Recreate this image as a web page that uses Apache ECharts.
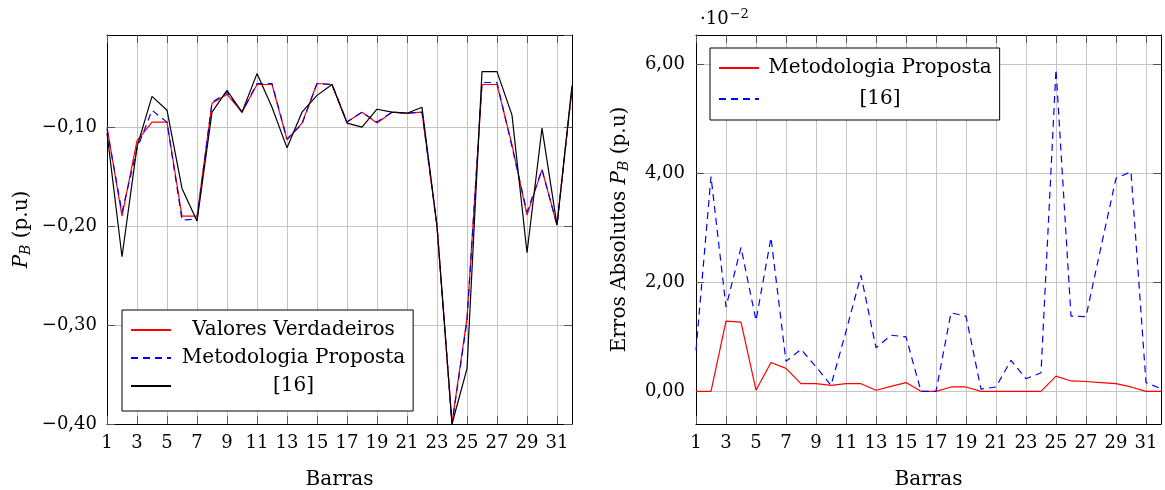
<!DOCTYPE html>
<html>
<head>
<meta charset="utf-8">
<script src="https://cdn.jsdelivr.net/npm/echarts@6/dist/echarts.min.js"></script>
<style>
  html, body { margin: 0; background: #fff; }
  #chart { width: 1165px; height: 490px; }
</style>
</head>
<body>
<div id="chart"></div>
<script>
// barras do sistema
const barras = ['1', '2', '3', '4', '5', '6', '7', '8', '9', '10', '11', '12', '13', '14', '15', '16',
  '17', '18', '19', '20', '21', '22', '23', '24', '25', '26', '27', '28', '29', '30', '31', '32'];

// P_B (p.u) - grafico da esquerda
const valoresVerdadeiros = [-0.100, -0.190, -0.114, -0.095, -0.095, -0.190, -0.190, -0.076, -0.067, -0.085,
  -0.057, -0.057, -0.113, -0.096, -0.056, -0.057, -0.095, -0.085, -0.096, -0.085, -0.086, -0.085,
  -0.200, -0.399, -0.293, -0.057, -0.057, -0.118, -0.189, -0.143, -0.199, -0.061];
const metodologiaProposta = [-0.102, -0.186, -0.122, -0.083, -0.095, -0.194, -0.193, -0.075, -0.065, -0.085,
  -0.056, -0.056, -0.112, -0.097, -0.056, -0.057, -0.095, -0.085, -0.095, -0.085, -0.086, -0.085,
  -0.200, -0.400, -0.296, -0.055, -0.055, -0.120, -0.186, -0.143, -0.199, -0.061];
const ref16 = [-0.106, -0.231, -0.120, -0.069, -0.083, -0.162, -0.195, -0.085, -0.063, -0.085,
  -0.046, -0.080, -0.121, -0.085, -0.068, -0.057, -0.096, -0.100, -0.082, -0.085, -0.086, -0.080,
  -0.200, -0.400, -0.344, -0.044, -0.044, -0.088, -0.227, -0.101, -0.199, -0.058];

// erros absolutos (x 10^-2) - grafico da direita
const erroMetodologia = [0, 0, 1.29, 1.27, 0.02, 0.53, 0.42, 0.14, 0.14, 0.11, 0.14, 0.14, 0.02, 0.09, 0.16, 0,
  0, 0.08, 0.08, 0, 0, 0, 0, 0, 0.28, 0.19, 0.18, 0.16, 0.14, 0.08, 0, 0];
const erroRef16 = [0.75, 3.94, 1.55, 2.64, 1.30, 2.82, 0.55, 0.77, 0.45, 0.11, 1.10, 2.13, 0.80, 1.03, 1.00, 0,
  0, 1.44, 1.38, 0.04, 0.08, 0.57, 0.23, 0.34, 5.91, 1.38, 1.37, 2.65, 3.91, 4.03, 0.16, 0.05];
const ticksErro = [0, 2, 4, 6];

const fonte = 'DejaVu Serif';
const tamTick = 18;
const tam = 20;
const corGrade = '#c4c4c4';
const corTick = '#555';

function eixoX(gridIndex, baixo) {
  return {
    type: 'category', gridIndex: gridIndex, data: barras, boundaryGap: false,
    position: baixo ? 'bottom' : 'top',
    axisLine: { onZero: false, lineStyle: { color: '#000', width: 1 } },
    axisTick: { inside: true, length: 8, interval: 1, lineStyle: { color: corTick } },
    axisLabel: { show: baixo, interval: 1, margin: 10, color: '#000', fontFamily: fonte, fontSize: tamTick },
    splitLine: { show: baixo, interval: 1, lineStyle: { color: corGrade, width: 1 } },
    name: baixo ? 'Barras' : '', nameLocation: 'middle', nameGap: 46,
    nameTextStyle: { color: '#000', fontFamily: fonte, fontSize: tam }
  };
}

const fmtPB = v => v.toFixed(2).replace('.', ',').replace('-', '\u2212');
const fmtErro = v => v.toFixed(2).replace('.', ',');

const richNome = {
  n: { fontFamily: fonte, fontSize: tam, color: '#000' },
  i: { fontFamily: fonte, fontSize: tam, fontStyle: 'italic', color: '#000' },
  s: { fontFamily: fonte, fontSize: 14, fontStyle: 'italic', color: '#000', padding: [9, 0, 0, 0] }
};

function legenda(x, y, nomes, larg, gap, pad) {
  return {
    orient: 'vertical', left: x, top: y, data: nomes, selectedMode: false,
    itemWidth: 40, itemHeight: 20, itemGap: gap,
    itemStyle: { opacity: 0 },
    padding: pad, borderColor: '#000', borderWidth: 1, backgroundColor: '#fff',
    formatter: n => '{c|' + n.trim() + '}',
    textStyle: {
      rich: { c: { width: larg, align: 'center', fontFamily: fonte, fontSize: tam, color: '#000' } }
    }
  };
}

function linha(nome, dados, cor, tracejado, x, y) {
  return {
    name: nome, type: 'line', data: dados, xAxisIndex: x, yAxisIndex: y,
    symbol: 'none', animation: false,
    lineStyle: { color: cor, width: 1.2, type: tracejado ? [7, 5] : 'solid' },
    itemStyle: { color: cor }
  };
}

const chart = echarts.init(document.getElementById('chart'), null, { renderer: 'canvas' });

chart.setOption({
  backgroundColor: '#fff',
  animation: false,
  title: {
    left: 695, top: 3,
    text: '{a|\u00b710}{b|\u22122}',
    textStyle: {
      fontWeight: 'normal',
      rich: {
        a: { fontFamily: fonte, fontSize: tamTick, fontWeight: 'normal', color: '#000' },
        b: { fontFamily: fonte, fontSize: 13, fontWeight: 'normal', color: '#000', padding: [0, 0, 10, 1] }
      }
    }
  },
  grid: [
    { left: 107, top: 35, width: 465, height: 389, outerBoundsMode: 'none', containLabel: false },
    { left: 696, top: 35, width: 465, height: 389, outerBoundsMode: 'none', containLabel: false }
  ],
  legend: [
    legenda(122, 310, ['Valores Verdadeiros', 'Metodologia Proposta', '[16]'], 235, 8, [10, 8, 15, 8]),
    legenda(710, 48, ['Metodologia Proposta ', '[16] '], 232, 11, [10, 8, 11, 8])
  ],
  xAxis: [eixoX(0, true), eixoX(0, false), eixoX(1, true), eixoX(1, false)],
  yAxis: [
    {
      type: 'value', gridIndex: 0, min: -0.4, max: -0.007, interval: 0.1, position: 'left',
      axisLine: { show: true, onZero: false, lineStyle: { color: '#000' } },
      axisTick: { show: true, inside: true, length: 8, lineStyle: { color: corTick } },
      axisLabel: { margin: 10, showMaxLabel: false, formatter: fmtPB, color: '#000', fontFamily: fonte, fontSize: tamTick },
      splitLine: { show: true, lineStyle: { color: corGrade } },
      name: '{i|P}{s|B}{n| (p.u)}', nameLocation: 'middle', nameRotate: 90, nameGap: 74,
      nameTextStyle: { rich: richNome }
    },
    {
      type: 'value', gridIndex: 0, min: -0.4, max: -0.007, interval: 0.1, position: 'right',
      axisLine: { show: true, onZero: false, lineStyle: { color: '#000' } },
      axisTick: { show: true, inside: true, length: 8, lineStyle: { color: corTick } },
      axisLabel: { show: false }, splitLine: { show: false }
    },
    {
      type: 'value', gridIndex: 1, min: -0.6, max: 6.54, position: 'left',
      axisLine: { show: true, onZero: false, lineStyle: { color: '#000' } },
      axisTick: { show: true, inside: true, length: 8, customValues: ticksErro, lineStyle: { color: corTick } },
      axisLabel: { margin: 11, customValues: ticksErro, formatter: fmtErro, color: '#000', fontFamily: fonte, fontSize: tamTick },
      splitLine: { show: true, lineStyle: { color: corGrade } },
      name: '{n|Erros Absolutos }{i|P}{s|B}{n| (p.u)}', nameLocation: 'middle', nameRotate: 90, nameGap: 65,
      nameTextStyle: { rich: richNome }
    },
    {
      type: 'value', gridIndex: 1, min: -0.6, max: 6.54, position: 'right',
      axisLine: { show: true, onZero: false, lineStyle: { color: '#000' } },
      axisTick: { show: true, inside: true, length: 8, customValues: ticksErro, lineStyle: { color: corTick } },
      axisLabel: { show: false, customValues: ticksErro }, splitLine: { show: false }
    }
  ],
  series: [
    linha('Valores Verdadeiros', valoresVerdadeiros, '#ff0000', false, 0, 0),
    linha('Metodologia Proposta', metodologiaProposta, '#0000ff', true, 0, 0),
    linha('[16]', ref16, '#000000', false, 0, 0),
    linha('Metodologia Proposta ', erroMetodologia, '#ff0000', false, 2, 2),
    linha('[16] ', erroRef16, '#0000ff', true, 2, 2)
  ]
});
</script>
</body>
</html>
